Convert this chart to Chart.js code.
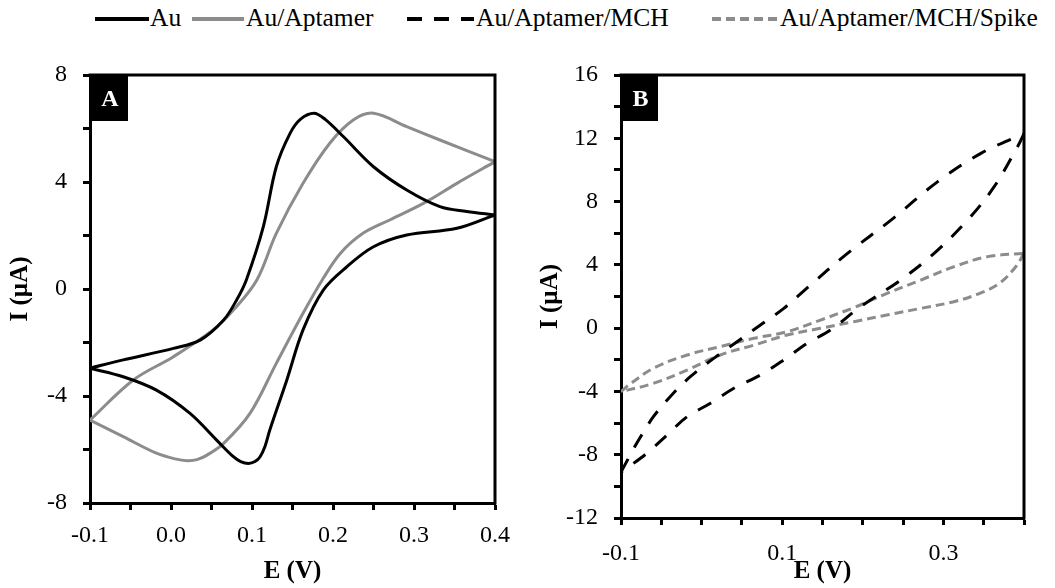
<!DOCTYPE html>
<html>
<head>
<meta charset="utf-8">
<script src="https://cdn.jsdelivr.net/npm/chart.js@4"></script>
<style>
  html,body{margin:0;padding:0;background:#fff;}
  body{width:1055px;height:588px;position:relative;overflow:hidden;font-family:"Times New Roman","Liberation Serif","DejaVu Serif",serif;}
  .leg{position:absolute;font-size:25.5px;line-height:30px;top:3px;color:#000;white-space:nowrap;}
  .sw{position:absolute;top:15px;}
  #pa{position:absolute;left:0;top:0;}
  #pb{position:absolute;left:530px;top:0;}
</style>
</head>
<body>
<svg class="sw" style="left:95px" width="54" height="8"><line x1="0" y1="4" x2="54" y2="4" stroke="#000" stroke-width="4"/></svg>
<div class="leg" style="left:150px">Au</div>
<svg class="sw" style="left:192px" width="52" height="8"><line x1="0" y1="4" x2="52" y2="4" stroke="#8c8c8c" stroke-width="4"/></svg>
<div class="leg" style="left:246px">Au/Aptamer</div>
<svg class="sw" style="left:407px" width="67" height="8"><line x1="0" y1="4" x2="67" y2="4" stroke="#000" stroke-width="4" stroke-dasharray="15 12"/></svg>
<div class="leg" style="left:476px">Au/Aptamer/MCH</div>
<svg class="sw" style="left:712px" width="66" height="8"><line x1="0" y1="4" x2="66" y2="4" stroke="#8c8c8c" stroke-width="4" stroke-dasharray="9 5"/></svg>
<div class="leg" style="left:780px">Au/Aptamer/MCH/Spike</div>

<canvas id="pa" width="530" height="588"></canvas>
<canvas id="pb" width="525" height="588"></canvas>

<script>
// ---- Data (E in V, I in µA), each loop: forward scan then reverse scan ----
const seriesNames = ["Au", "Au/Aptamer", "Au/Aptamer/MCH", "Au/Aptamer/MCH/Spike"];

const auE = [-0.1,-0.059,0.003,0.036,0.065,0.081,0.093,0.114,0.130,0.147,0.160,0.1765,0.190,0.213,0.250,0.291,0.332,0.365,0.4,
             0.353,0.291,0.250,0.217,0.188,0.163,0.143,0.122,0.116,0.110,0.1037,0.0955,0.086,0.077,0.056,0.0235,-0.018,-0.059,-0.1];
const auI = [-2.96,-2.65,-2.22,-1.91,-1.16,-0.41,0.34,2.33,4.57,5.82,6.35,6.57,6.35,5.69,4.57,3.70,3.08,2.90,2.77,
             2.27,2.02,1.58,0.83,-0.04,-1.53,-3.40,-5.27,-5.89,-6.27,-6.45,-6.52,-6.45,-6.27,-5.64,-4.65,-3.78,-3.28,-2.96];

const aptE = [-0.1,-0.0465,0.003,0.052,0.077,0.106,0.130,0.163,0.196,0.225,0.250,0.291,0.332,0.4,
              0.353,0.3115,0.270,0.237,0.209,0.188,0.163,0.130,0.0975,0.065,0.045,0.032,0.020,0.005,-0.018,-0.059,-0.1];
const aptI = [-4.90,-3.40,-2.53,-1.53,-0.79,0.34,2.08,3.95,5.45,6.32,6.57,6.07,5.57,4.76,
              3.95,3.20,2.58,2.08,1.33,0.40,-0.91,-2.78,-4.65,-5.77,-6.20,-6.38,-6.42,-6.35,-6.14,-5.52,-4.90];

const mchE = [-0.1,-0.0805,-0.0598,-0.039,-0.014,0.015,0.044,0.073,0.102,0.130,0.181,0.235,0.293,0.3465,0.4,
              0.392,0.363,0.330,0.2885,0.247,0.197,0.160,0.131,0.102,0.073,0.040,0.011,-0.018,-0.043,-0.068,-0.093,-0.1];
const mchI = [-9.1,-7.28,-5.60,-4.33,-3.07,-1.91,-0.86,0.20,1.25,2.50,4.73,6.83,9.26,11.05,12.3,
              11.47,8.94,6.83,4.73,3.04,1.35,-0.12,-0.96,-2.01,-2.96,-3.80,-4.75,-5.60,-6.76,-7.91,-8.86,-9.1];

const spkE = [-0.1,-0.093,-0.060,-0.018,0.023,0.065,0.106,0.1475,0.189,0.230,0.272,0.313,0.355,0.4,
              0.39,0.37,0.345,0.313,0.272,0.230,0.189,0.1475,0.106,0.065,0.023,-0.018,-0.060,-0.1];
const spkI = [-4.02,-3.70,-2.54,-1.70,-1.17,-0.64,-0.23,0.51,1.30,2.20,3.04,3.88,4.52,4.73,
              3.90,2.85,2.20,1.67,1.25,0.83,0.41,-0.01,-0.43,-1.07,-1.70,-2.65,-3.49,-4.02];

// axis tick settings
const aYTicks = [-8,-4,0,4,8];
const aXTicks = [-0.1,0.0,0.1,0.2,0.3,0.4];
const bYTicks = [-12,-8,-4,0,4,8,12,16];
const bXTicks = [-0.1,0.1,0.3];

// ---- helpers ----
function branches(E, I){
  let k = 0;
  for (let i=1;i<E.length;i++) if (E[i] > E[k]) k = i;
  const fwd = [], rev = [];
  for (let i=0;i<=k;i++) fwd.push({x:E[i], y:I[i]});
  for (let i=k;i<E.length;i++) rev.push({x:E[i], y:I[i]});
  return [fwd, rev];
}
function ds(E, I, color, dash, label){
  return branches(E, I).map(d => ({
    label: label, data: d, showLine: true, borderColor: color, borderWidth: 3,
    borderDash: dash, borderCapStyle: 'butt', pointRadius: 0, fill: false,
    tension: 0.35
  }));
}
const FONT = "'Times New Roman','Liberation Serif','DejaVu Serif',serif";
const near = (v, arr) => arr.some(t => Math.abs(v - t) < 1e-6);

const framePlugin = {
  id: 'frame',
  afterDatasetsDraw(chart, args, opts){
    const {ctx, chartArea: a} = chart;
    ctx.save();
    ctx.strokeStyle = '#000'; ctx.lineWidth = 3;
    ctx.beginPath();
    ctx.moveTo(a.left - 1.5, a.top); ctx.lineTo(a.right, a.top); ctx.lineTo(a.right, a.bottom + 1.5);
    ctx.stroke();
    ctx.fillStyle = '#000';
    ctx.fillRect(a.left, a.top, opts.w, opts.h);
    ctx.fillStyle = '#fff';
    ctx.font = "bold 24px " + FONT;
    ctx.textAlign = 'center'; ctx.textBaseline = 'middle';
    ctx.fillText(opts.text, a.left + opts.w/2 + 1, a.top + opts.h/2 + 2);
    ctx.restore();
  }
};

function makeChart(id, datasets, cfg){
  return new Chart(document.getElementById(id), {
    type: 'scatter',
    data: { datasets },
    plugins: [framePlugin],
    options: {
      responsive: false, animation: false, devicePixelRatio: 1,
      layout: { padding: { top: 75, right: cfg.padRight, left: 0, bottom: 0 } },
      plugins: { legend: { display: false }, tooltip: { enabled: false },
                 frame: { text: cfg.letter, w: cfg.boxW, h: 46 } },
      scales: {
        x: {
          type: 'linear', min: -0.1, max: 0.4,
          afterFit: s => { s.height = cfg.xH; },
          border: { display: true, color: '#000', width: 3 },
          grid: { display: true, drawOnChartArea: false, drawTicks: true, tickLength: 7, tickWidth: 3, tickColor: '#000' },
          ticks: { stepSize: 0.05, autoSkip: false, maxRotation: 0, color: '#000', padding: cfg.xPad,
                   font: { family: FONT, size: 24 },
                   callback: v => near(v, cfg.xLabels) ? (Math.abs(v) < 1e-9 ? '0.0' : Number(v).toFixed(1)) : '' },
          title: { display: true, text: 'E (V)', color: '#000', font: { family: FONT, size: 25, weight: 'bold' },
                   padding: { top: 0, bottom: 1 } }
        },
        y: {
          type: 'linear', min: cfg.yMin, max: cfg.yMax,
          afterFit: s => { s.width = cfg.yW; },
          border: { display: true, color: '#000', width: 3 },
          grid: { display: true, drawOnChartArea: false, drawTicks: true, tickLength: 7, tickWidth: 3, tickColor: '#000' },
          ticks: { stepSize: 2, autoSkip: false, color: '#000', padding: 16,
                   font: { family: FONT, size: 24 },
                   callback: v => near(v, cfg.yLabels) ? String(Math.round(v)) : '' },
          title: { display: true, text: 'I (µA)', color: '#000', font: { family: FONT, size: 25, weight: 'bold' },
                   padding: { top: 6, bottom: 0 } }
        }
      }
    }
  });
}

makeChart('pa',
  [...ds(auE, auI, '#000', [], seriesNames[0]), ...ds(aptE, aptI, '#8c8c8c', [], seriesNames[1])],
  { letter: 'A', boxW: 38, padRight: 35, xH: 85, yW: 90, xPad: 11, yMin: -8, yMax: 8, xLabels: aXTicks, yLabels: aYTicks });

makeChart('pb',
  [...ds(mchE, mchI, '#000', [15, 13], seriesNames[2]), ...ds(spkE, spkI, '#8c8c8c', [9, 5], seriesNames[3])],
  { letter: 'B', boxW: 37, padRight: 31, xH: 70, yW: 91, xPad: 14, yMin: -12, yMax: 16, xLabels: bXTicks, yLabels: bYTicks });
</script>
</body>
</html>
